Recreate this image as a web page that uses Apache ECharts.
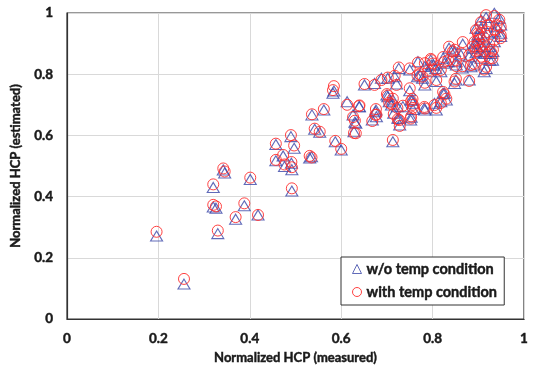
<!DOCTYPE html>
<html>
<head>
<meta charset="utf-8">
<script src="https://cdn.jsdelivr.net/npm/echarts@6/dist/echarts.min.js"></script>
<style>
  html, body { margin: 0; padding: 0; background: #fff; }
  #chart { width: 533px; height: 370px; }
</style>
</head>
<body>
<div id="chart"></div>
<script>
// Normalized HCP: measured value for each sample
const measured = [
  0.196, 0.256, 0.330, 0.320, 0.320, 0.326, 0.342, 0.345, 0.369, 0.388,
  0.418, 0.401, 0.492, 0.457, 0.473, 0.476, 0.491, 0.492, 0.457, 0.490,
  0.497, 0.531, 0.535, 0.542, 0.553, 0.587, 0.600, 0.536, 0.562, 0.584,
  0.582, 0.613, 0.626, 0.630, 0.628, 0.639, 0.651, 0.675, 0.677, 0.668,
  0.673, 0.688, 0.702, 0.717, 0.721, 0.700, 0.705, 0.710, 0.715, 0.724,
  0.728, 0.713, 0.735, 0.750, 0.756, 0.757, 0.757, 0.753, 0.783, 0.750,
  0.726, 0.772, 0.783, 0.768, 0.783, 0.797, 0.808, 0.804, 0.808, 0.823,
  0.830, 0.848, 0.852, 0.834, 0.791, 0.778, 0.807, 0.818, 0.826, 0.836,
  0.844, 0.866, 0.862, 0.851, 0.880, 0.884, 0.851, 0.880, 0.891, 0.913,
  0.931, 0.915, 0.898, 0.902, 0.895, 0.906, 0.921, 0.917, 0.935, 0.946,
  0.949, 0.949, 0.949, 0.935, 0.924, 0.928, 0.903, 0.892, 0.906, 0.917,
  0.823, 0.848, 0.888, 0.910, 0.932, 0.925, 0.640, 0.676, 0.702, 0.713,
  0.723, 0.753, 0.782, 0.818, 0.826, 0.727, 0.632, 0.752, 0.767, 0.796,
  0.899, 0.906, 0.936, 0.801, 0.865, 0.900, 0.912, 0.895, 0.920, 0.940
];

// Estimated HCP, model without temperature condition
const estWithoutTemp = [
  0.271, 0.114, 0.279, 0.430, 0.366, 0.362, 0.487, 0.477, 0.326, 0.370,
  0.340, 0.456, 0.418, 0.517, 0.533, 0.498, 0.509, 0.488, 0.570, 0.596,
  0.558, 0.526, 0.530, 0.620, 0.610, 0.579, 0.552, 0.667, 0.683, 0.745,
  0.738, 0.710, 0.667, 0.643, 0.612, 0.694, 0.765, 0.677, 0.661, 0.650,
  0.770, 0.787, 0.787, 0.792, 0.768, 0.732, 0.710, 0.699, 0.672, 0.656,
  0.634, 0.579, 0.694, 0.746, 0.716, 0.705, 0.685, 0.659, 0.683, 0.814,
  0.819, 0.797, 0.765, 0.841, 0.825, 0.830, 0.776, 0.705, 0.683, 0.738,
  0.716, 0.770, 0.830, 0.841, 0.808, 0.787, 0.819, 0.808, 0.836, 0.885,
  0.879, 0.898, 0.863, 0.841, 0.857, 0.824, 0.781, 0.781, 0.830, 0.808,
  0.846, 0.868, 0.890, 0.923, 0.950, 0.977, 0.966, 0.985, 0.999, 0.983,
  0.961, 0.934, 0.923, 0.906, 0.890, 0.868, 0.874, 0.901, 0.852, 0.819,
  0.852, 0.874, 0.885, 0.890, 0.874, 0.846, 0.694, 0.683, 0.726, 0.716,
  0.694, 0.716, 0.689, 0.710, 0.738, 0.656, 0.640, 0.650, 0.792, 0.846,
  0.928, 0.950, 0.939, 0.830, 0.820, 0.905, 0.915, 0.870, 0.935, 0.955
];

// Estimated HCP, model with temperature condition
const estWithTemp = [
  0.285, 0.131, 0.289, 0.440, 0.373, 0.368, 0.492, 0.482, 0.333, 0.378,
  0.340, 0.462, 0.427, 0.520, 0.536, 0.505, 0.513, 0.496, 0.573, 0.601,
  0.567, 0.533, 0.528, 0.622, 0.612, 0.582, 0.556, 0.669, 0.686, 0.761,
  0.748, 0.700, 0.660, 0.648, 0.608, 0.696, 0.768, 0.667, 0.668, 0.647,
  0.765, 0.781, 0.789, 0.795, 0.765, 0.735, 0.707, 0.702, 0.670, 0.653,
  0.631, 0.585, 0.697, 0.754, 0.719, 0.700, 0.690, 0.662, 0.688, 0.819,
  0.822, 0.800, 0.772, 0.838, 0.836, 0.846, 0.781, 0.699, 0.690, 0.742,
  0.720, 0.776, 0.826, 0.846, 0.812, 0.792, 0.815, 0.814, 0.840, 0.890,
  0.874, 0.905, 0.868, 0.845, 0.862, 0.830, 0.785, 0.778, 0.834, 0.815,
  0.852, 0.874, 0.895, 0.928, 0.944, 0.970, 0.960, 0.993, 0.990, 0.978,
  0.955, 0.928, 0.918, 0.912, 0.897, 0.872, 0.880, 0.906, 0.857, 0.824,
  0.856, 0.880, 0.890, 0.896, 0.880, 0.852, 0.698, 0.686, 0.730, 0.720,
  0.690, 0.712, 0.693, 0.706, 0.734, 0.650, 0.607, 0.655, 0.796, 0.850,
  0.933, 0.955, 0.944, 0.835, 0.826, 0.912, 0.920, 0.876, 0.938, 0.960
];

const axisTicks = [0, 0.2, 0.4, 0.6, 0.8, 1];
const seriesNames = ['w/o temp condition', 'with temp condition'];

const FONT = 'Lato, "Open Sans", sans-serif';
const INK = '#1a1a1a';
const TRI_COLOR = '#3a46a8';
const CIRC_COLOR = '#ff2e2e';

// Heavier bold text: a thin outline in the text colour thickens the strokes
const boldText = (size, extra) => Object.assign({
  fontFamily: FONT, fontWeight: 'bold', fontSize: size, color: INK,
  textBorderColor: INK, textBorderWidth: 0.45
}, extra);

const pairs = (ys) => measured.map((x, i) => [x, ys[i]]);

const tickLabel = (v) => {
  const hit = axisTicks.find(t => Math.abs(t - v) < 1e-9);
  return hit === undefined ? '' : String(hit);
};

const valueAxis = (name, nameGap, labelMargin) => ({
  type: 'value',
  min: axisTicks[0],
  max: axisTicks[axisTicks.length - 1],
  interval: 0.2,
  name: name,
  nameLocation: 'middle',
  nameGap: nameGap,
  nameTextStyle: boldText(13),
  axisLine: { show: true, lineStyle: { color: '#333', width: 1.2 } },
  axisTick: { show: false },
  axisLabel: Object.assign(boldText(13.5), { margin: labelMargin, formatter: tickLabel }),
  splitLine: { show: true, lineStyle: { color: '#d9d9d9', width: 1 } }
});

const chart = echarts.init(document.getElementById('chart'), null, { renderer: 'canvas' });
chart.setOption({
  animation: false,
  backgroundColor: '#fff',
  grid: {
    left: 67, right: 9, top: 13, bottom: 51,
    show: true, borderColor: '#333', borderWidth: 1.2, backgroundColor: 'transparent'
  },
  xAxis: valueAxis('Normalized HCP (measured)', 31, 13),
  yAxis: valueAxis('Normalized HCP (estimated)', 45, 14),
  legend: {
    orient: 'vertical',
    left: 341, top: 257,
    padding: [3, 7, 4, 11],
    itemGap: 5,
    itemWidth: 9, itemHeight: 9,
    itemTextGap: 3,
    borderColor: '#333', borderWidth: 1,
    backgroundColor: '#fff',
    textStyle: boldText(14.5, { lineHeight: 18 }),
    data: [
      { name: seriesNames[0], icon: 'triangle', itemStyle: { color: 'transparent', borderColor: TRI_COLOR, borderWidth: 1 } },
      { name: seriesNames[1], icon: 'circle', itemStyle: { color: 'transparent', borderColor: CIRC_COLOR, borderWidth: 1 } }
    ]
  },
  series: [
    {
      name: seriesNames[0],
      type: 'scatter',
      symbol: 'triangle',
      symbolSize: [12, 10],
      itemStyle: { color: 'transparent', borderColor: TRI_COLOR, borderWidth: 1.1 },
      data: pairs(estWithoutTemp),
      z: 2
    },
    {
      name: seriesNames[1],
      type: 'scatter',
      symbol: 'circle',
      symbolSize: 11,
      itemStyle: { color: 'transparent', borderColor: CIRC_COLOR, borderWidth: 1, opacity: 0.9 },
      data: pairs(estWithTemp),
      z: 3
    }
  ]
});
</script>
</body>
</html>
